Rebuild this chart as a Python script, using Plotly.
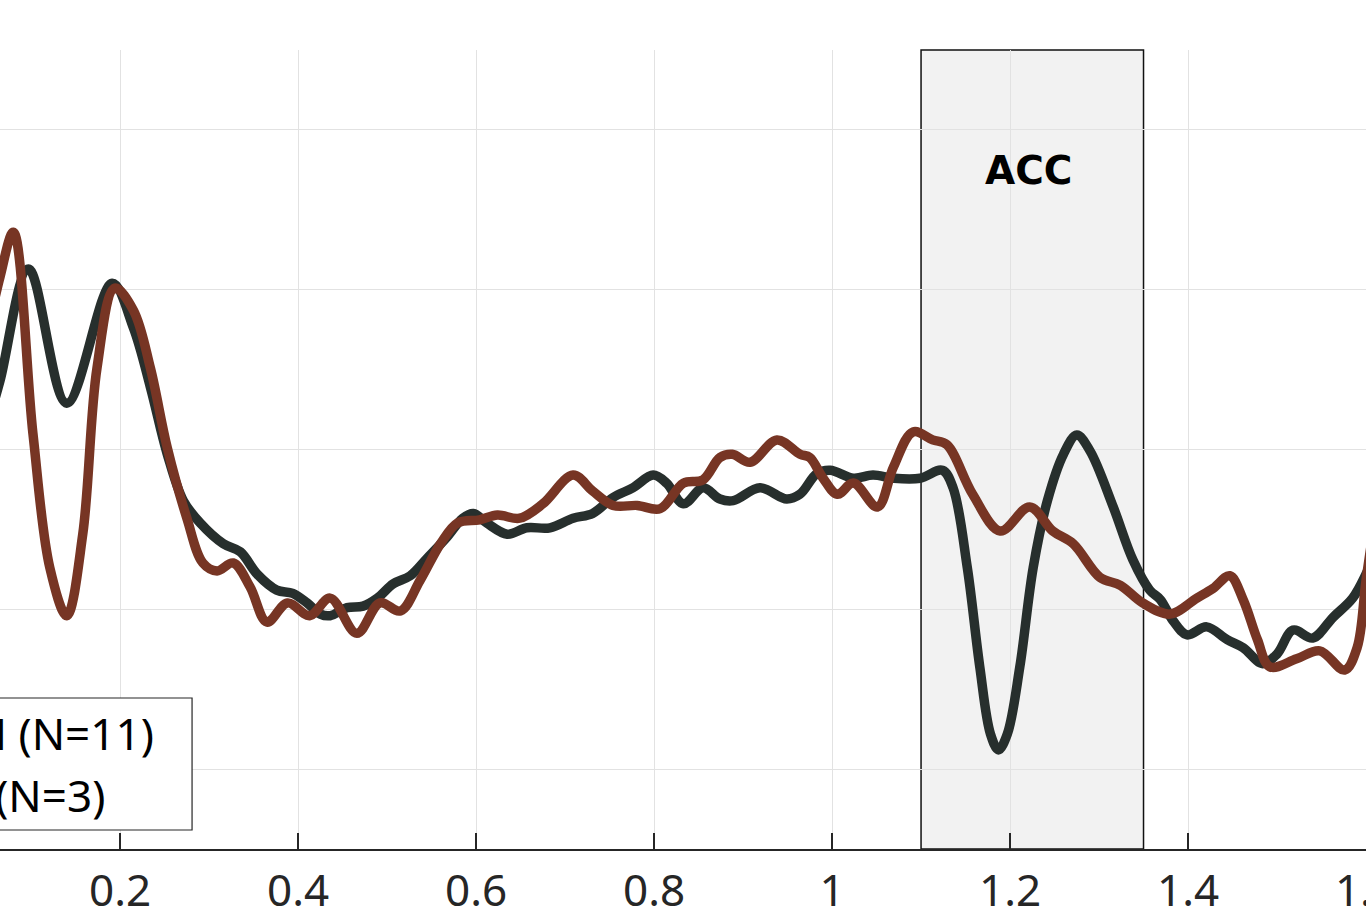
import plotly.graph_objects as go

# Time (s) and amplitude values
nh_t = [0.048, 0.065, 0.097, 0.140, 0.191, 0.215, 0.234, 0.253, 0.271, 0.290, 0.316, 0.335,
        0.354, 0.376, 0.394, 0.410, 0.425, 0.436, 0.455, 0.473, 0.489, 0.507, 0.526, 0.545,
        0.567, 0.585, 0.597, 0.612, 0.635, 0.657, 0.683, 0.709, 0.731, 0.754, 0.776, 0.799,
        0.814, 0.833, 0.855, 0.874, 0.889, 0.919, 0.949, 0.964, 0.983, 0.998, 1.024, 1.046,
        1.069, 1.099, 1.124, 1.136, 1.152, 1.166, 1.178, 1.187, 1.197, 1.211, 1.226, 1.242,
        1.260, 1.275, 1.290, 1.316, 1.338, 1.357, 1.369, 1.383, 1.399, 1.421, 1.444, 1.462,
        1.484, 1.500, 1.518, 1.540, 1.563, 1.585, 1.600, 1.616]
nh_v = [0.10, 0.43, 1.13, 0.29, 1.04, 0.76, 0.39, -0.03, -0.32, -0.46, -0.59, -0.64,
        -0.78, -0.88, -0.90, -0.96, -1.03, -1.04, -0.99, -0.98, -0.93, -0.84, -0.79, -0.68,
        -0.55, -0.43, -0.40, -0.46, -0.53, -0.49, -0.49, -0.43, -0.40, -0.30, -0.24, -0.16,
        -0.21, -0.34, -0.24, -0.31, -0.32, -0.24, -0.31, -0.28, -0.15, -0.13, -0.18, -0.16,
        -0.18, -0.18, -0.13, -0.24, -0.74, -1.36, -1.78, -1.88, -1.78, -1.36, -0.74, -0.32,
        -0.03, 0.09, -0.01, -0.36, -0.69, -0.88, -0.94, -1.07, -1.16, -1.11, -1.19, -1.24,
        -1.34, -1.28, -1.13, -1.18, -1.05, -0.93, -0.78, -0.57]

ci_t = [0.054, 0.065, 0.080, 0.102, 0.121, 0.140, 0.158, 0.174, 0.194, 0.215, 0.234, 0.253,
        0.275, 0.293, 0.309, 0.327, 0.346, 0.365, 0.388, 0.413, 0.436, 0.466, 0.492, 0.515,
        0.537, 0.560, 0.579, 0.604, 0.624, 0.649, 0.675, 0.709, 0.731, 0.754, 0.781, 0.807,
        0.833, 0.855, 0.874, 0.888, 0.908, 0.938, 0.964, 0.975, 0.990, 1.006, 1.024, 1.051,
        1.069, 1.091, 1.113, 1.129, 1.158, 1.189, 1.222, 1.248, 1.271, 1.301, 1.324, 1.349,
        1.380, 1.410, 1.428, 1.447, 1.462, 1.478, 1.492, 1.522, 1.548, 1.576, 1.590, 1.600,
        1.610]
ci_v = [0.81, 1.08, 1.36, 0.10, -0.74, -1.04, -0.53, 0.51, 1.01, 0.87, 0.51, 0.01,
        -0.43, -0.71, -0.76, -0.71, -0.86, -1.08, -0.96, -1.04, -0.93, -1.15, -0.96, -1.01,
        -0.82, -0.59, -0.46, -0.44, -0.41, -0.43, -0.34, -0.16, -0.26, -0.35, -0.35, -0.37,
        -0.21, -0.19, -0.05, -0.03, -0.08, 0.06, -0.03, -0.05, -0.18, -0.28, -0.21, -0.36,
        -0.11, 0.11, 0.06, 0.03, -0.28, -0.51, -0.36, -0.51, -0.59, -0.80, -0.85, -0.96,
        -1.03, -0.93, -0.87, -0.79, -0.94, -1.19, -1.36, -1.31, -1.26, -1.38, -1.24, -0.82,
        -0.44]

tick_vals = [0.2, 0.4, 0.6, 0.8, 1.0, 1.2, 1.4, 1.6]
tick_text = ["0.2", "0.4", "0.6", "0.8", "1", "1.2", "1.4", "1.6"]
legend_labels = ["NH (N=11)", "CI (N=3)"]
acc_window = [1.1, 1.35]

DARK = "#272f2d"
BROWN = "#773524"

fig = go.Figure()
fig.add_trace(go.Scatter(x=nh_t, y=nh_v, mode="lines", line=dict(color=DARK, width=9.5, shape="spline", smoothing=1.0),
                         name=legend_labels[0], showlegend=False))
fig.add_trace(go.Scatter(x=ci_t, y=ci_v, mode="lines", line=dict(color=BROWN, width=9.5, shape="spline", smoothing=1.0),
                         name=legend_labels[1], showlegend=False))

fig.add_shape(type="rect", xref="x", yref="paper", x0=acc_window[0], x1=acc_window[1], y0=0, y1=1,
              fillcolor="#f2f2f2", line=dict(color="#111111", width=1.5), layer="below")
fig.add_annotation(x=1.221, y=0.88, xref="x", yref="paper", text="<b>ACC</b>",
                   showarrow=False, font=dict(family="DejaVu Sans", size=39, color="black"))

# legend box (partially off-canvas, as in the reference)
fig.add_shape(type="rect", xref="paper", yref="paper", x0=-0.2, x1=0.1406, y0=0.0238, y1=0.189,
              fillcolor="white", line=dict(color="#262626", width=1.2), layer="above")
fig.add_shape(type="line", xref="paper", yref="paper", x0=-0.17, x1=-0.07, y0=0.145, y1=0.145,
              line=dict(color=DARK, width=9))
fig.add_shape(type="line", xref="paper", yref="paper", x0=-0.17, x1=-0.07, y0=0.0676, y1=0.0676,
              line=dict(color=BROWN, width=9))
for lbl, yy in zip(legend_labels, [0.145, 0.0676]):
    fig.add_annotation(x=-0.0447, y=yy, xref="paper", yref="paper", text=lbl, showarrow=False,
                       xanchor="left", yanchor="middle", font=dict(family="Noto Sans", size=44, color="black"))

fig.update_layout(
    width=1366, height=922,
    margin=dict(l=0, r=0, t=50, b=73, autoexpand=False),
    plot_bgcolor="white", paper_bgcolor="white",
    showlegend=False,
)
fig.update_xaxes(range=[0.065, 1.6], tickvals=tick_vals, ticktext=tick_text,
                 ticks="inside", ticklen=16, tickwidth=1.5, tickcolor="#262626",
                 showline=True, linecolor="#262626", linewidth=1.5,
                 showgrid=True, gridcolor="#e2e2e2", gridwidth=1, zeroline=False,
                 tickfont=dict(family="Noto Sans", size=44, color="#262626"),
                 ticklabelstandoff=2, ticklabeloverflow="allow", automargin=False)
fig.update_yaxes(range=[-2.5, 2.5], tickvals=[-2, -1, 0, 1, 2], showticklabels=False,
                 showgrid=True, gridcolor="#e2e2e2", gridwidth=1, zeroline=False, showline=False, ticks="",
                 automargin=False)

fig.write_html("out.html", config={"displayModeBar": False},
               post_script="document.body.style.margin='0';document.body.style.overflow='hidden';")
